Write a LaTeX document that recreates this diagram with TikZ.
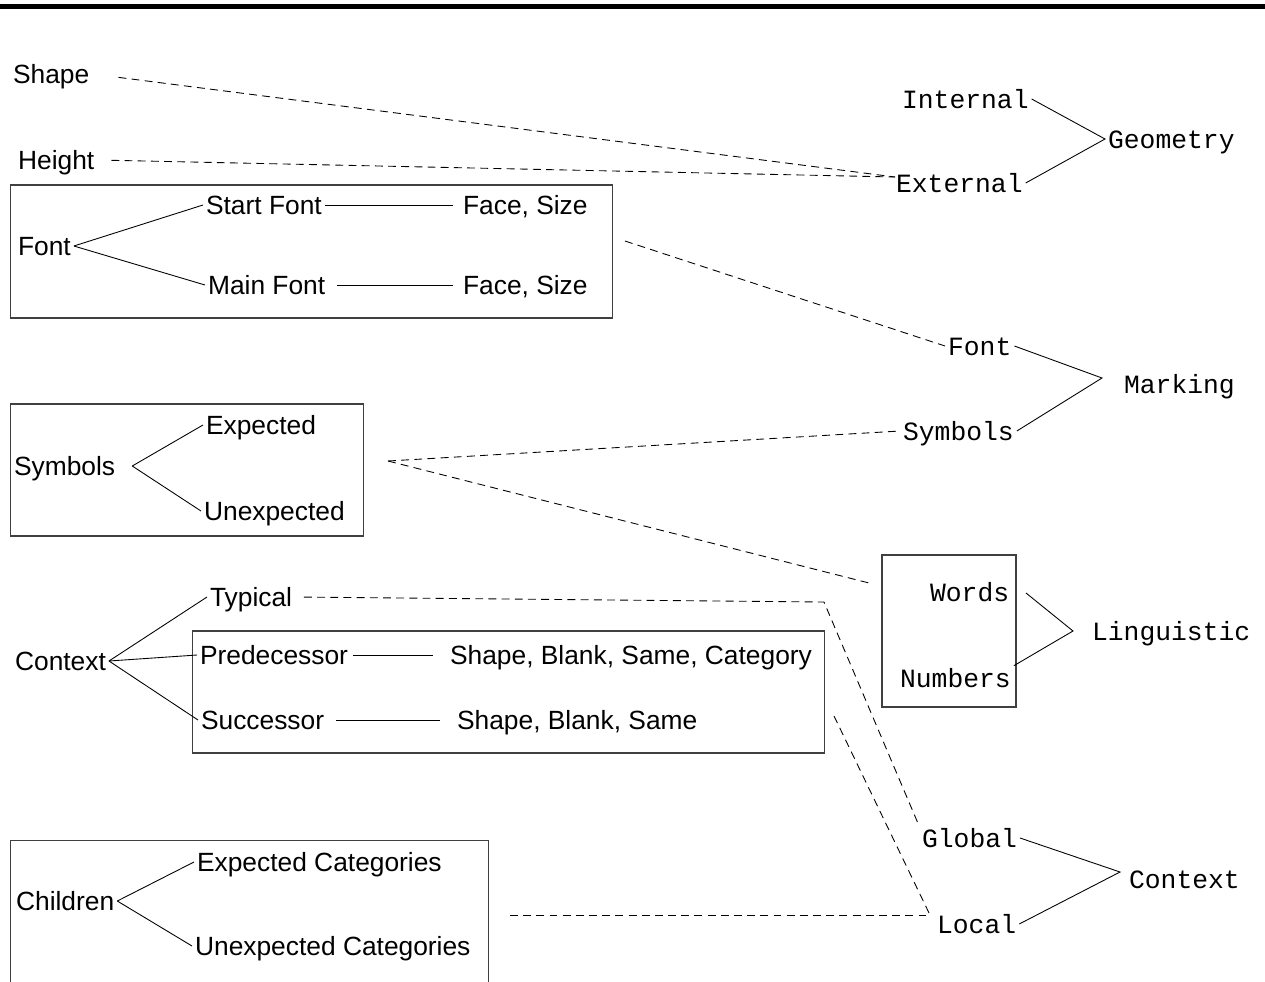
\documentclass[tikz,border=0pt]{standalone}
\usepackage{fontspec}
\setmainfont{Liberation Sans}
\setmonofont{Liberation Mono}
\begin{document}
\begin{tikzpicture}[x=0.02cm,y=-0.02cm,line width=0.5pt,
    every node/.style={font=\fontsize{15}{18}\selectfont,inner sep=1.5pt,
      text height=10.5pt,text depth=0pt,anchor=west},
    mono/.style={font=\fontsize{15}{18}\selectfont\ttfamily},
    box/.style={draw=black!75,line width=0.6pt,inner sep=0pt,anchor=center},
    dashline/.style={dash pattern=on 4.5pt off 3pt}]
      \useasboundingbox (0,0) rectangle (1265,981);
      \draw[line width=2.3pt] (0,6.5) -- (1265,6.5);
      \path
        (311.5,251.5) node[box,minimum width=12.06cm,minimum height=2.66cm] (fontbox){}
        (187,470) node[box,minimum width=7.08cm,minimum height=2.64cm] (symbolsbox){}
        (508.5,692) node[box,minimum width=12.66cm,minimum height=2.44cm] (contextbox){}
        (249.5,920) node[box,minimum width=9.58cm,minimum height=3.2cm] (childrenbox){}
        (949,631) node[box,minimum width=2.68cm,minimum height=3.04cm] (wordsbox){};
      \path
        (10,74) node (shape){Shape}
        (15,160) node (height){Height}
        (15,246) node (fontA){Font}
        (203,205) node (startfont){Start Font}
        (460,205) node (startface){Face, Size}
        (205,285) node (mainfont){Main Font}
        (460,285) node (mainface){Face, Size}
        (11,466) node (symbolsA){Symbols}
        (203,425) node (expected){Expected}
        (201,511) node (unexpected){Unexpected}
        (12,661) node (contextA){Context}
        (207,597) node (typical){Typical}
        (197,655) node (pred){Predecessor}
        (447,655) node (predface){Shape, Blank, Same, Category}
        (198,720) node (succ){Successor}
        (454,720) node (succface){Shape, Blank, Same}
        (13,901) node (children){Children}
        (194,862) node (expcat){Expected Categories}
        (192,946) node (unexpcat){Unexpected Categories};
      \path
        (899,99) node[mono] (internal){Internal}
        (893,183) node[mono] (external){External}
        (1105,139) node[mono] (geometry){Geometry}
        (945,346) node[mono] (fontB){Font}
        (900,431) node[mono] (symbolsB){Symbols}
        (1121,384) node[mono] (marking){Marking}
        (927,592) node[mono] (words){Words}
        (897,678) node[mono] (numbers){Numbers}
        (1089,631) node[mono] (linguistic){Linguistic}
        (919,838) node[mono] (global){Global}
        (934,924) node[mono] (local){Local}
        (1126,879) node[mono] (contextB){Context};
      \coordinate (extin) at (895,177);
      \coordinate (fontout) at (625,241);
      \coordinate (symout) at (388,461);
      \coordinate (wordsin) at (873,584);
      \coordinate (typbend) at (824,602);
      \coordinate (succout) at (834,716);
      \coordinate (childout) at (510,915);
      \coordinate (localin) at (930,915);
      \coordinate (markV) at (1102,378);
      \coordinate (wordsout) at (1026,593);
      \coordinate (lingV) at (1073,631);
      \coordinate (ctxV) at (1120,872);
      \begin{scope}[dashline]
        \draw[shorten <=15pt] (shape.east) to (extin);
        \draw[shorten <=8pt] (height.east) to (extin);
        \draw (fontout) to (fontB.west);
        \draw (symout) to (symbolsB.west);
        \draw (symout) to (wordsin);
        \draw[shorten <=5pt] (typical.east) -- (typbend) -- (global.north west);
        \draw (succout) to (localin);
        \draw (childout) to (localin);
      \end{scope}
      \begin{scope}[-]
        \draw (fontA.east) to (startfont.west);
        \draw (fontA.east) to (mainfont.west);
        \draw (startfont.east) to ([xshift=-4pt]startface.west);
        \draw[shorten <=5pt] (mainfont.east) to ([xshift=-4pt]mainface.west);
        \draw ([xshift=8pt]symbolsA.east) to (expected.west);
        \draw ([xshift=8pt]symbolsA.east) to (unexpected.west);
        \draw (contextA.east) to (typical.west);
        \draw (contextA.east) to (pred.west);
        \draw (contextA.east) to (succ.west);
        \draw[shorten <=1pt,shorten >=8pt] (pred.east) to (predface.west);
        \draw[shorten <=5pt,shorten >=8pt] (succ.east) to (succface.west);
        \draw (children.east) to (expcat.west);
        \draw (children.east) to (unexpcat.west);
        \draw (internal.east) -- (geometry.west) -- (external.east);
        \draw (fontB.east) -- (markV) -- (symbolsB.east);
        \draw (wordsout) -- (lingV) -- (numbers.north east);
        \draw (global.east) -- (ctxV) -- (local.east);
      \end{scope}
    \end{tikzpicture}
\end{document}
